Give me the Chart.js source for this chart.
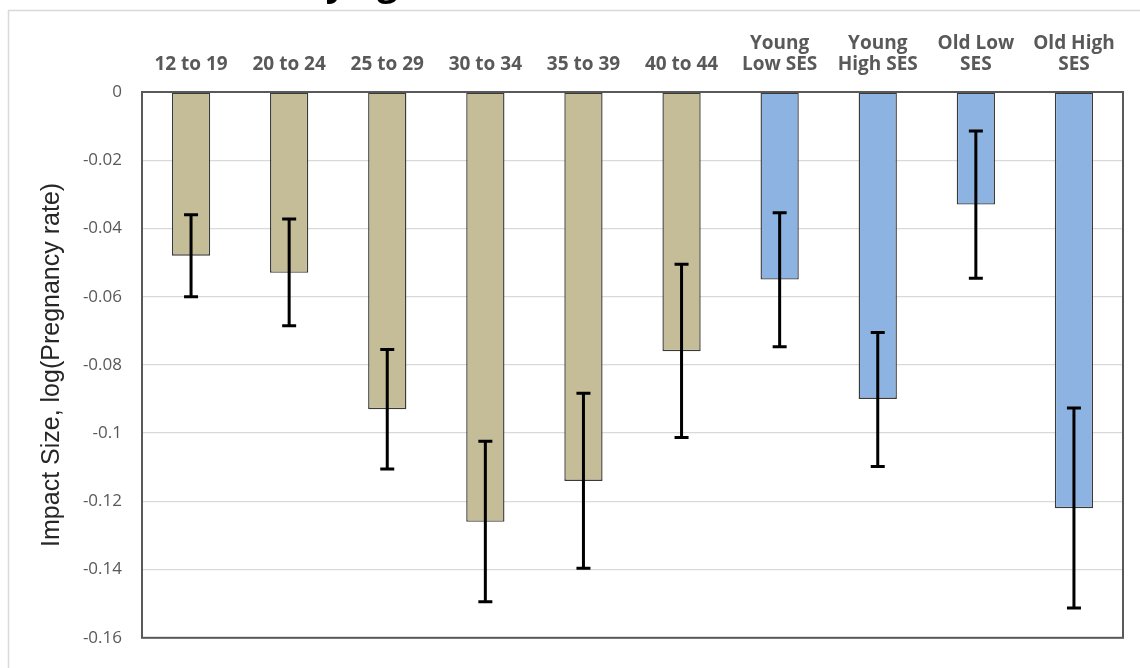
<!DOCTYPE html>
<html>
<head>
<meta charset="utf-8">
<script src="https://cdn.jsdelivr.net/npm/chart.js@4"></script>
<style>
  html, body { margin: 0; padding: 0; background: #ffffff; }
  #wrap { width: 1140px; height: 668px; position: relative; }
</style>
</head>
<body>
<div id="wrap"><canvas id="c" width="1140" height="668"></canvas></div>
<script>
const categories = [
  "12 to 19", "20 to 24", "25 to 29", "30 to 34", "35 to 39", "40 to 44",
  ["Young", "Low SES"], ["Young", "High SES"], ["Old Low", "SES"], ["Old High", "SES"]
];
const groups = ["age", "age", "age", "age", "age", "age", "ses", "ses", "ses", "ses"];
const impact = [-0.048, -0.053, -0.093, -0.126, -0.114, -0.076, -0.055, -0.090, -0.033, -0.122];
const errorTop = [-0.036, -0.0372, -0.0755, -0.1024, -0.0883, -0.0505, -0.0354, -0.0705, -0.0114, -0.0926];
const errorBottom = [-0.060, -0.0685, -0.1105, -0.1494, -0.1396, -0.1013, -0.0747, -0.1098, -0.0546, -0.1513];
const yTicks = [0, -0.02, -0.04, -0.06, -0.08, -0.1, -0.12, -0.14, -0.16];
const titleText = "by age";
const yTitle = "Impact Size, log(Pregnancy rate)";

const groupColor = { age: "#c4bd97", ses: "#8db3e2" };

const frameAndErrors = {
  id: "frameAndErrors",
  beforeDraw(chart) {
    const ctx = chart.ctx;
    ctx.save();
    ctx.fillStyle = "#ffffff";
    ctx.fillRect(0, 0, chart.width, chart.height);
    ctx.strokeStyle = "#d9d9d9";
    ctx.lineWidth = 1.5;
    ctx.beginPath();
    ctx.moveTo(8.5, chart.height);
    ctx.lineTo(8.5, 10.5);
    ctx.lineTo(chart.width, 10.5);
    ctx.stroke();
    ctx.fillStyle = "#000000";
    ctx.font = "bold 36px 'Open Sans'";
    ctx.textAlign = "left";
    ctx.textBaseline = "alphabetic";
    ctx.fillText(titleText, 303, -5);
    ctx.restore();
  },
  afterDatasetsDraw(chart) {
    const ctx = chart.ctx;
    const y = chart.scales.y;
    const meta = chart.getDatasetMeta(0);
    const a = chart.chartArea;
    ctx.save();
    ctx.strokeStyle = "#595959";
    ctx.lineWidth = 2;
    ctx.strokeRect(a.left, a.top, a.right - a.left, a.bottom - a.top);
    ctx.strokeStyle = "#000000";
    ctx.lineWidth = 3;
    ctx.lineCap = "butt";
    meta.data.forEach((bar, i) => {
      const x = bar.x;
      const y1 = y.getPixelForValue(errorTop[i]);
      const y2 = y.getPixelForValue(errorBottom[i]);
      ctx.beginPath();
      ctx.moveTo(x, y1);
      ctx.lineTo(x, y2);
      ctx.moveTo(x - 7, y1);
      ctx.lineTo(x + 7, y1);
      ctx.moveTo(x - 7, y2);
      ctx.lineTo(x + 7, y2);
      ctx.stroke();
    });
    ctx.restore();
  }
};

new Chart(document.getElementById("c"), {
  type: "bar",
  data: {
    labels: categories,
    datasets: [{
      data: impact,
      backgroundColor: groups.map(g => groupColor[g]),
      borderColor: "#3a3a3a",
      borderWidth: 1.4,
      borderSkipped: false,
      barPercentage: 0.39,
      categoryPercentage: 1.0
    }]
  },
  options: {
    responsive: false,
    animation: false,
    devicePixelRatio: 1,
    layout: { padding: { left: 8, top: 10, right: 17, bottom: 17 } },
    plugins: {
      legend: { display: false },
      tooltip: { enabled: false },
      title: { display: false }
    },
    scales: {
      x: {
        position: "top",
        grid: { display: false, drawTicks: false },
        border: { display: false },
        afterFit(s) { s.height = 82; },
        ticks: {
          color: "#595959",
          padding: 16,
          maxRotation: 0,
          autoSkip: false,
          font: { family: "'Open Sans'", size: 19, weight: "bold", lineHeight: 1.15 }
        }
      },
      y: {
        min: -0.16,
        max: 0,
        afterFit(s) { s.width = 134; },
        afterBuildTicks(s) { s.ticks = yTicks.map(v => ({ value: v })); },
        grid: { color: "#d9d9d9", lineWidth: 1.3, drawTicks: false },
        border: { display: false },
        ticks: {
          color: "#595959",
          padding: 20,
          font: { family: "'Open Sans'", size: 17 },
          callback: v => String(Math.round(v * 100) / 100)
        },
        title: {
          display: true,
          text: yTitle,
          color: "#262626",
          padding: { top: 29, bottom: 0 },
          font: { family: "'Liberation Sans'", size: 25 }
        }
      }
    }
  },
  plugins: [frameAndErrors]
});
</script>
</body>
</html>
